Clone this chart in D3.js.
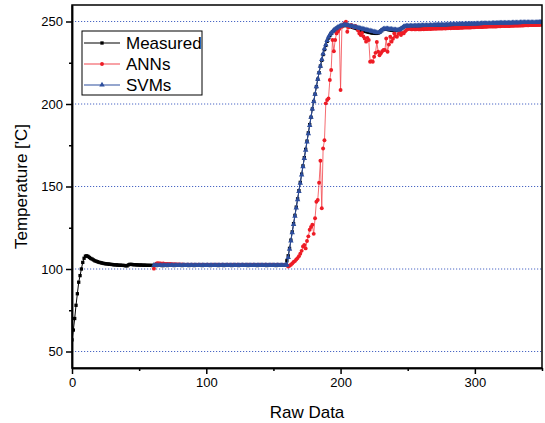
<!DOCTYPE html>
<html lang="en">
<head>
<meta charset="UTF-8">
<title>Temperature: Measured vs ANNs vs SVMs</title>
<script src="https://cdn.jsdelivr.net/npm/d3@7"></script>
<style>
  body { margin: 0; background: #fff; }
  text { font-family: "Liberation Sans", Arial, sans-serif; }
</style>
</head>
<body>
<div id="chart"></div>
<script>
// measured temperature, one value per raw data index starting at 0
const measured = [
  57, 63, 70, 78, 85, 92, 96, 100, 104, 106.5,
  107.8, 108, 107.6, 107, 106.4, 106, 105.5, 105, 104.7, 104.4,
  104.1, 103.9, 103.7, 103.5, 103.3, 103.2, 103.1, 103, 102.9, 102.8,
  102.7, 102.6, 102.5, 102.5, 102.4, 102.3, 102.3, 102.2, 102.2, 102.1,
  102, 101.9, 102.5, 102.8, 102.8, 102.7, 102.6, 102.6, 102.5, 102.5,
  102.4, 102.4, 102.4, 102.3, 102.3, 102.3, 102.2, 102.2, 102.2, 102.2,
  102.1, 102.2, 102.2, 102.1, 102.2, 102.3, 102.2, 102.1, 102.1, 102.2,
  102.2, 102.1, 102.2, 102.3, 102.2, 102.2, 102.1, 102.2, 102.2, 102.3,
  102.2, 102.2, 102.1, 102.2, 102.2, 102.3, 102.2, 102.1, 102.2, 102.2,
  102.2, 102.1, 102.2, 102.2, 102.3, 102.2, 102.2, 102.1, 102.2, 102.2,
  102.3, 102.2, 102.2, 102.1, 102.2, 102.2, 102.2, 102.3, 102.2, 102.1,
  102.2, 102.2, 102.2, 102.1, 102.2, 102.3, 102.2, 102.2, 102.2, 102.1,
  102.2, 102.2, 102.3, 102.2, 102.1, 102.2, 102.2, 102.2, 102.3, 102.2,
  102.2, 102.1, 102.2, 102.2, 102.2, 102.3, 102.2, 102.2, 102.1, 102.2,
  102.2, 102.3, 102.2, 102.2, 102.2, 102.1, 102.2, 102.2, 102.3, 102.2,
  102.2, 102.2, 102.1, 102.2, 102.2, 102.3, 102.2, 102.2, 102.2, 102.2,
  105, 108, 112.5, 117.5, 122.5, 127.5, 132.5, 137.5, 142.5, 147.5,
  152.5, 157.5, 162.5, 167.5, 172.5, 177.5, 182.5, 187.5, 192, 197,
  201.5, 206, 210.5, 215, 219, 223, 226.5, 230, 233, 235.5,
  238, 240, 241.5, 242.8, 243.8, 244.5, 245.2, 245.8, 246.2, 246.6,
  247, 247.3, 247.5, 247.6, 247.6, 247.4, 247.2, 247, 246.8, 246.5,
  246.2, 246, 245.7, 245.4, 245.1, 244.8, 244.5, 244.3, 244.1, 243.9,
  243.7, 243.5, 243.3, 243.1, 243, 242.9, 242.8, 242.8, 243, 243.5,
  244.3, 245, 245.3, 245.4, 245.3, 245.2, 245, 244.9, 244.8, 244.6,
  244.5, 244.5, 244.6, 244.7, 245, 245.6, 246.2, 246.7, 247, 247.1,
  247.1, 247.1, 247.2, 247.2, 247.2, 247.2, 247.3, 247.3, 247.3, 247.3,
  247.4, 247.4, 247.5, 247.4, 247.5, 247.5, 247.5, 247.6, 247.5, 247.6,
  247.6, 247.7, 247.7, 247.7, 247.8, 247.7, 247.8, 247.8, 247.8, 247.9,
  247.9, 247.9, 248, 248, 248, 248, 248.1, 248.1, 248.1, 248.2,
  248.2, 248.2, 248.2, 248.3, 248.3, 248.3, 248.3, 248.4, 248.4, 248.4,
  248.4, 248.5, 248.5, 248.5, 248.5, 248.6, 248.6, 248.6, 248.6, 248.7,
  248.7, 248.7, 248.7, 248.8, 248.8, 248.8, 248.8, 248.8, 248.9, 248.9,
  248.9, 248.9, 248.9, 249, 249, 249, 249, 249, 249.1, 249.1,
  249.1, 249.1, 249.1, 249.1, 249.2, 249.2, 249.2, 249.2, 249.2, 249.2,
  249.2, 249.3, 249.3, 249.3, 249.3, 249.3, 249.3, 249.4, 249.4, 249.4, 249.4
]

// both predictions start at raw data index 61
const predStart = 61

const ann = [
  100.2, 102.8, 103.3, 103.5, 103.4, 103.3, 103.2, 103.3, 103.1, 103,
  103, 102.9, 103, 102.9, 102.8, 102.9, 102.8, 102.7, 102.8, 102.7,
  102.6, 102.7, 102.6, 102.6, 102.5, 102.6, 102.6, 102.5, 102.6, 102.5,
  102.6, 102.5, 102.5, 102.6, 102.5, 102.5, 102.6, 102.5, 102.5, 102.5,
  102.6, 102.5, 102.5, 102.5, 102.6, 102.5, 102.5, 102.6, 102.5, 102.5,
  102.5, 102.6, 102.5, 102.5, 102.5, 102.6, 102.5, 102.5, 102.5, 102.6,
  102.5, 102.5, 102.6, 102.5, 102.5, 102.5, 102.6, 102.5, 102.5, 102.5,
  102.6, 102.5, 102.5, 102.5, 102.6, 102.5, 102.5, 102.5, 102.5, 102.6,
  102.5, 102.5, 102.5, 102.6, 102.5, 102.5, 102.5, 102.5, 102.6, 102.5,
  102.5, 102.5, 102.6, 102.5, 102.5, 102.5, 102.5, 102.5, 102.4,
  102.3, 101.5, 102, 102.6, 103.3, 104.2, 104.8, 105.8, 106.6, 107.8,
  109.2, 111, 113.6, 114.5, 112.5, 117, 119.8, 123.8, 125.5, 126.8,
  121.3, 130.8, 140.8, 141.8, 152.3, 165.6, 136.8, 173, 178, 200.4,
  202.4, 203.4, 214.5, 220.6, 238.8, 232, 238.8, 242.8, 244, 245.5,
  208.5, 246.8, 248, 249, 249.9, 243.8, 246.5, 247, 247.9, 247,
  246.5, 247.3, 246.5, 244.5, 242.8, 241.8, 243, 241, 239.7, 237.8,
  240, 238.8, 225.6, 226, 225.6, 228.6, 231, 237.6, 231.7, 229.5,
  230.7, 232, 232.7, 232.7, 239.7, 231.7, 236, 240.8, 237.8, 239.5,
  242.8, 241, 240.8, 242.5, 243.8, 241.8, 243, 242.8, 244, 244.8,
  245.3, 245.8, 245.5, 245.2, 245.4, 245.3, 245.2, 245.4, 245.3, 245.2,
  245.3, 245.4, 245.3, 245.5, 245.4, 245.5, 245.6, 245.5, 245.6, 245.6,
  245.7, 245.6, 245.7, 245.8, 245.7, 245.8, 245.8, 245.9, 245.8, 245.9,
  245.9, 246, 245.9, 246, 246, 246.1, 246, 246.1, 246.1, 246.2,
  246.2, 246.2, 246.3, 246.3, 246.3, 246.4, 246.4, 246.4, 246.5, 246.5,
  246.5, 246.6, 246.6, 246.6, 246.7, 246.7, 246.7, 246.8, 246.8, 246.8,
  246.9, 246.9, 246.9, 247, 247, 247, 247, 247.1, 247.1, 247.1,
  247.2, 247.2, 247.2, 247.3, 247.3, 247.3, 247.3, 247.4, 247.4, 247.4,
  247.5, 247.5, 247.5, 247.5, 247.6, 247.6, 247.6, 247.7, 247.7, 247.7,
  247.7, 247.8, 247.8, 247.8, 247.8, 247.9, 247.9, 247.9, 247.9, 248, 248
]

const svm = [
  102.3, 102.2, 102.2, 102.1, 102.2, 102.2, 102.2, 102.1, 102.2, 102.2,
  102.2, 102.2, 102.1, 102.2, 102.2, 102.2, 102.2, 102.1, 102.2, 102.2,
  102.2, 102.1, 102.2, 102.2, 102.2, 102.2, 102.2, 102.1, 102.2, 102.2,
  102.2, 102.2, 102.1, 102.2, 102.2, 102.2, 102.2, 102.2, 102.1, 102.2,
  102.2, 102.2, 102.2, 102.1, 102.2, 102.2, 102.2, 102.2, 102.2, 102.2,
  102.1, 102.2, 102.2, 102.2, 102.2, 102.2, 102.1, 102.2, 102.2, 102.2,
  102.2, 102.2, 102.2, 102.1, 102.2, 102.2, 102.2, 102.2, 102.2, 102.2,
  102.1, 102.2, 102.2, 102.2, 102.2, 102.2, 102.2, 102.1, 102.2, 102.2,
  102.2, 102.2, 102.2, 102.2, 102.1, 102.2, 102.2, 102.2, 102.2, 102.2,
  102.2, 102.2, 102.1, 102.2, 102.2, 102.2, 102.2, 102.2, 102.3,
  102.5, 107, 112, 117, 122, 127, 132, 137, 142, 147,
  152, 157, 162, 167, 172, 177, 182, 187, 192, 197,
  201.5, 206, 210.5, 215, 219, 223, 227, 230.5, 233.5, 236,
  238.5, 240.5, 242, 243, 244, 244.8, 245.5, 246, 246.5, 247,
  247.3, 247.6, 247.8, 248, 248, 247.8, 247.6, 247.4, 247.2, 247,
  246.8, 246.6, 246.4, 246.2, 246, 245.8, 245.6, 245.4, 245.2, 245,
  244.8, 244.6, 244.4, 244.2, 244, 243.8, 243.6, 243.4, 243.3, 243.6,
  244.3, 245, 245.5, 245.7, 245.7, 245.6, 245.5, 245.4, 245.3, 245.2,
  245.1, 245, 244.9, 244.9, 245, 245.6, 246.3, 246.9, 247.2, 247.3,
  247.3, 247.3, 247.4, 247.4, 247.4, 247.4, 247.5, 247.5, 247.5, 247.5,
  247.6, 247.6, 247.7, 247.6, 247.7, 247.7, 247.7, 247.8, 247.7, 247.8,
  247.8, 247.9, 247.9, 247.9, 248, 247.9, 248, 248, 248, 248.1,
  248.1, 248.1, 248.2, 248.2, 248.2, 248.2, 248.3, 248.3, 248.3, 248.4,
  248.4, 248.4, 248.4, 248.5, 248.5, 248.5, 248.5, 248.6, 248.6, 248.6,
  248.6, 248.7, 248.7, 248.7, 248.7, 248.8, 248.8, 248.8, 248.8, 248.9,
  248.9, 248.9, 248.9, 249, 249, 249, 249, 249, 249.1, 249.1,
  249.1, 249.1, 249.1, 249.2, 249.2, 249.2, 249.2, 249.2, 249.3, 249.3,
  249.3, 249.3, 249.3, 249.3, 249.4, 249.4, 249.4, 249.4, 249.4, 249.4,
  249.4, 249.5, 249.5, 249.5, 249.5, 249.5, 249.5, 249.6, 249.6, 249.6, 249.6
]

const xTicks = [0, 100, 200, 300]
const xMinorTicks = [50, 150, 250, 350]
const yTicks = [50, 100, 150, 200, 250]
const yMinorTicks = [75, 125, 175, 225]
const seriesNames = ['Measured', 'ANNs', 'SVMs']

const width = 545
const height = 423
const plotLeft = 72, plotRight = 542, plotTop = 5, plotBottom = 368

const xScale = d3.scaleLinear().domain([0, 350]).range([plotLeft, plotRight])
const yScale = d3.scaleLinear().domain([40, 260]).range([plotBottom, plotTop])

const svg = d3.select('#chart')
  .append('svg')
  .attr('width', width)
  .attr('height', height)

svg.append('defs').append('clipPath')
  .attr('id', 'plot-clip')
  .append('rect')
  .attr('x', plotLeft).attr('y', plotTop)
  .attr('width', plotRight - plotLeft).attr('height', plotBottom - plotTop)

// dotted gridlines
svg.append('g')
  .selectAll('line')
  .data(yTicks)
  .enter()
  .append('line')
  .attr('x1', plotLeft)
  .attr('x2', plotRight)
  .attr('y1', d => yScale(d))
  .attr('y2', d => yScale(d))
  .attr('stroke', '#4a66c4')
  .attr('stroke-width', 1)
  .attr('stroke-dasharray', '1.2,1.8')

const series = [
  { name: 'Measured', pts: measured.map((v, i) => [i, v]), color: '#000', line: '#000', symbol: d3.symbolSquare, size: 11 },
  { name: 'ANNs', pts: ann.map((v, i) => [predStart + i, v]), color: '#ee1c25', line: '#f2474e', symbol: d3.symbolCircle, size: 12 },
  { name: 'SVMs', pts: svm.map((v, i) => [predStart + i, v]), color: '#2d4e9e', line: '#2d4e9e', symbol: d3.symbolTriangle, size: 13 }
]

const line = d3.line()
  .x(d => xScale(d[0]))
  .y(d => yScale(d[1]))

const plot = svg.append('g').attr('clip-path', 'url(#plot-clip)')

series.forEach(s => {
  plot.append('path')
    .datum(s.pts)
    .attr('d', line)
    .attr('fill', 'none')
    .attr('stroke', s.line)
    .attr('stroke-width', 1)
    .attr('stroke-opacity', s.name === 'ANNs' ? 0.8 : 1)

  plot.append('g')
    .selectAll('path')
    .data(s.pts)
    .enter()
    .append('path')
    .attr('d', d3.symbol().type(s.symbol).size(s.size))
    .attr('transform', d => `translate(${xScale(d[0])},${yScale(d[1])})`)
    .attr('fill', s.color)
})

// frame
svg.append('rect')
  .attr('x', plotLeft).attr('y', plotTop)
  .attr('width', plotRight - plotLeft).attr('height', plotBottom - plotTop)
  .attr('fill', 'none')
  .attr('stroke', '#000')
  .attr('stroke-width', 1.5)

const xAxis = d3.axisBottom(xScale).tickValues(xTicks).tickSize(6).tickSizeOuter(0).tickPadding(4)
const xMinor = d3.axisBottom(xScale).tickValues(xMinorTicks).tickSize(3).tickSizeOuter(0).tickFormat('')
const yAxis = d3.axisLeft(yScale).tickValues(yTicks).tickSize(6).tickSizeOuter(0).tickPadding(3)
const yMinor = d3.axisLeft(yScale).tickValues(yMinorTicks).tickSize(3).tickSizeOuter(0).tickFormat('')

const styleAxis = g => {
  g.select('.domain').attr('stroke', '#000').attr('stroke-width', 1.5)
  g.selectAll('.tick line').attr('stroke', '#000').attr('stroke-width', 1.5)
  g.selectAll('.tick text').attr('fill', '#000').style('font-size', '13px')
    .style('font-family', '"Liberation Sans", Arial, sans-serif')
}

svg.append('g').attr('transform', `translate(0,${plotBottom})`).call(xAxis).call(styleAxis)
svg.append('g').attr('transform', `translate(0,${plotBottom})`).call(xMinor).call(styleAxis)
svg.append('g').attr('transform', `translate(${plotLeft},0)`).call(yAxis).call(styleAxis)
svg.append('g').attr('transform', `translate(${plotLeft},0)`).call(yMinor).call(styleAxis)

// axis titles
svg.append('text')
  .attr('x', (plotLeft + plotRight) / 2)
  .attr('y', 418)
  .attr('text-anchor', 'middle')
  .style('font-size', '17px')
  .text('Raw Data')

svg.append('text')
  .attr('transform', `translate(27,${(plotTop + plotBottom) / 2}) rotate(-90)`)
  .attr('text-anchor', 'middle')
  .style('font-size', '17px')
  .text("Temperature ['C]")

// legend
const legend = svg.append('g').attr('transform', 'translate(82,31)')
legend.append('rect')
  .attr('width', 120)
  .attr('height', 64)
  .attr('fill', '#fff')
  .attr('stroke', '#000')
  .attr('stroke-width', 1)

seriesNames.forEach((name, i) => {
  const s = series.find(d => d.name === name)
  const yy = 12 + i * 21
  legend.append('line')
    .attr('x1', 2).attr('x2', 38)
    .attr('y1', yy).attr('y2', yy)
    .attr('stroke', s.line)
    .attr('stroke-width', 1.2)
  legend.append('path')
    .attr('d', d3.symbol().type(s.symbol).size(s.size))
    .attr('transform', `translate(20,${yy})`)
    .attr('fill', s.color)
  legend.append('text')
    .attr('x', 44)
    .attr('y', yy + 6)
    .style('font-size', '17px')
    .text(name)
})
</script>
</body>
</html>
